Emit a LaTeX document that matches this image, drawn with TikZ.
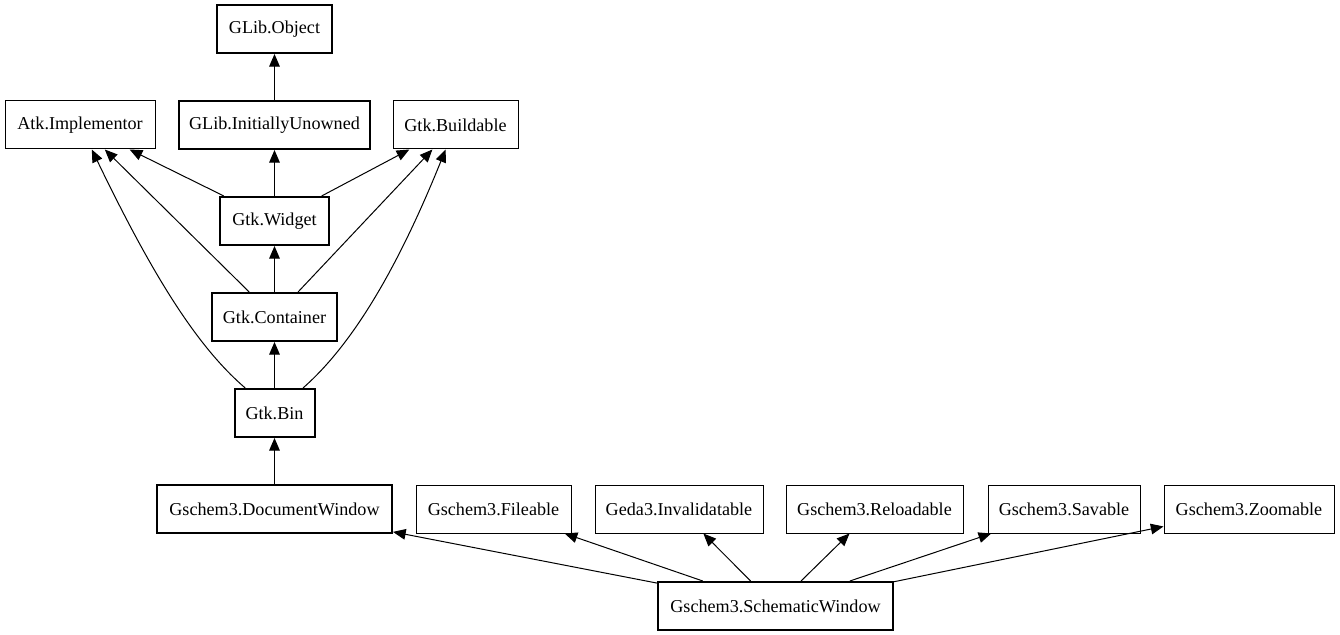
\documentclass[tikz,border=0pt]{standalone}
\usepackage{fontspec}
\setmainfont{Liberation Serif}
\usetikzlibrary{arrows.meta}
\begin{document}
\begin{tikzpicture}[x=0.75pt,y=-0.75pt,
  cls/.style={draw=black,line width=0.75pt,fill=white,rectangle,inner sep=0pt,
    minimum height=36pt,font=\fontsize{13.6pt}{16pt}\selectfont},
  thickcls/.style={cls,line width=1.5pt},
  edge/.style={line width=0.75pt,-{Triangle[length=9.5pt,width=8pt]}}]
\useasboundingbox (0,0) rectangle (1340,635);
% nodes
\node[thickcls,minimum width=86.25pt] (obj) at (274.5,29) {GLib.Object};
\node[cls,minimum width=112.5pt] (atk) at (80,125) {Atk.Implementor};
\node[thickcls,minimum width=143.25pt] (unowned) at (274.5,125) {GLib.InitiallyUnowned};
\node[cls,minimum width=93.75pt] (build) at (455.5,125) {Gtk.Buildable};
\node[thickcls,minimum width=81.75pt] (widget) at (274.5,221) {Gtk.Widget};
\node[thickcls,minimum width=93.75pt] (container) at (274.5,317) {Gtk.Container};
\node[thickcls,minimum width=60pt] (bin) at (274.5,413) {Gtk.Bin};
\node[thickcls,minimum width=176.25pt] (docwin) at (274.5,509) {Gschem3.DocumentWindow};
\node[cls,minimum width=116.25pt] (fileable) at (493.5,509) {Gschem3.Fileable};
\node[cls,minimum width=126pt] (inval) at (679,509) {Geda3.Invalidatable};
\node[cls,minimum width=132.75pt] (reload) at (874.5,509) {Gschem3.Reloadable};
\node[cls,minimum width=114pt] (savable) at (1064,509) {Gschem3.Savable};
\node[cls,minimum width=127.5pt] (zoomable) at (1249,509) {Gschem3.Zoomable};
\node[thickcls,minimum width=176.25pt] (schem) at (775.5,606) {Gschem3.SchematicWindow};
% edges
\draw[edge] (unowned) -- (obj);
\draw[edge] (widget) -- (atk);
\draw[edge] (widget) -- (unowned);
\draw[edge] (widget) -- (build);
\draw[edge] (container) -- (atk);
\draw[edge] (container) -- (widget);
\draw[edge] (container) -- (build);
\draw[edge] (bin) .. controls (195,345) and (150,270) .. (atk);
\draw[edge] (bin) -- (container);
\draw[edge] (bin) .. controls (352,345) and (397,270) .. (build);
\draw[edge] (docwin) -- (bin);
\draw[edge] (schem) -- (docwin);
\draw[edge] (schem) -- (fileable);
\draw[edge] (schem) -- (inval);
\draw[edge] (schem) -- (reload);
\draw[edge] (schem) -- (savable);
\draw[edge] (schem) -- (zoomable);
\end{tikzpicture}
\end{document}
